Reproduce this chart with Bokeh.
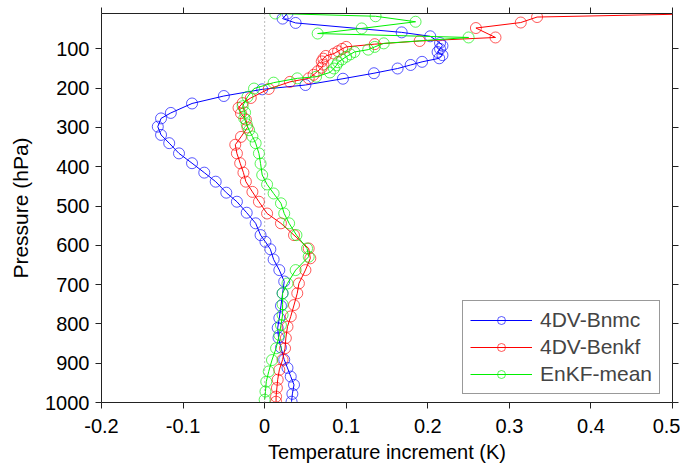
from bokeh.plotting import figure
from bokeh.models import Range1d, FixedTicker, LinearAxis, Span, Legend, CustomJSTickFormatter
from bokeh.embed import file_html
from bokeh.resources import INLINE

# ---------------- data ----------------
x_ticks = [-0.2, -0.1, 0.0, 0.1, 0.2, 0.3, 0.4, 0.5]
x_tick_labels = ["-0.2", "-0.1", "0", "0.1", "0.2", "0.3", "0.4", "0.5"]
y_ticks = [100, 200, 300, 400, 500, 600, 700, 800, 900, 1000]

bnmc_p = [10, 23, 34, 58, 68, 85, 92, 100, 108, 116, 124, 133, 141, 150, 162, 176, 192, 203,
          220, 239, 263, 277, 298, 319, 340, 366, 391, 415, 438, 466, 489, 517, 544, 574,
          591, 610, 636, 663, 692, 722, 754, 785, 810, 835, 860, 891, 912, 934, 955, 978, 998]
bnmc_t = [0.028, 0.022, 0.038, 0.168, 0.203, 0.215, 0.218, 0.215, 0.212, 0.218, 0.214, 0.193,
          0.179, 0.163, 0.134, 0.096, 0.050, -0.003, -0.050, -0.089, -0.115, -0.127, -0.131,
          -0.127, -0.117, -0.105, -0.089, -0.074, -0.060, -0.047, -0.034, -0.022, -0.011,
          -0.005, 0.001, 0.007, 0.011, 0.018, 0.024, 0.022, 0.020, 0.018, 0.016, 0.017, 0.020,
          0.024, 0.028, 0.032, 0.036, 0.034, 0.033]

benkf_p = [10, 19, 33, 47, 71, 80, 88, 95, 100, 106, 112, 118, 125, 132, 140, 148, 157, 166,
           175, 184, 202, 225, 238, 250, 264, 280, 300, 324, 344, 366, 391, 415, 438, 464, 489,
           519, 544, 574, 608, 633, 663, 697, 722, 752, 781, 807, 836, 862, 891, 917, 942, 963,
           985, 998]
benkf_t = [0.55, 0.334, 0.314, 0.259, 0.283, 0.19, 0.135, 0.10, 0.095, 0.09, 0.085, 0.075,
           0.072, 0.07, 0.072, 0.07, 0.065, 0.06, 0.054, 0.031, 0.005, -0.017, -0.027, -0.032,
           -0.029, -0.023, -0.021, -0.029, -0.036, -0.034, -0.030, -0.026, -0.023, -0.015,
           -0.007, 0.003, 0.020, 0.036, 0.054, 0.056, 0.050, 0.042, 0.040, 0.036, 0.032, 0.028,
           0.026, 0.025, 0.022, 0.018, 0.016, 0.015, 0.014, 0.014]

enkf_p = [10, 17, 31, 48, 61, 71, 86, 95, 102, 108, 114, 120, 127, 134, 142, 150, 160, 171,
          175, 186, 201, 222, 246, 262, 277, 292, 307, 323, 340, 366, 392, 421, 445, 468, 493,
          519, 544, 574, 608, 629, 663, 697, 722, 750, 777, 803, 828, 862, 892, 921, 947, 972,
          993]
enkf_t = [0.013, 0.136, 0.185, 0.119, 0.065, 0.25, 0.146, 0.135, 0.127, 0.11, 0.105, 0.10,
          0.095, 0.09, 0.088, 0.085, 0.08, 0.063, 0.040, 0.011, -0.013, -0.021, -0.027, -0.024,
          -0.025, -0.022, -0.019, -0.015, -0.011, -0.007, -0.005, -0.003, 0.003, 0.011, 0.020,
          0.024, 0.030, 0.039, 0.052, 0.054, 0.038, 0.028, 0.022, 0.022, 0.022, 0.020, 0.018,
          0.014, 0.009, 0.005, 0.002, 0.001, 0.000]

series = [
    ("4DV-Bnmc", bnmc_t, bnmc_p, "#0000ff"),
    ("4DV-Benkf", benkf_t, benkf_p, "#ff0000"),
    ("EnKF-mean", enkf_t, enkf_p, "#00f000"),
]

FONT = "Liberation Sans"

p = figure(frame_width=571, frame_height=389, output_backend="svg", toolbar_location=None,
           x_range=Range1d(-0.2, 0.5), y_range=Range1d(1000, 10),
           min_border_left=101, min_border_right=8, min_border_top=13, min_border_bottom=56)
p.outline_line_color = None
p.xgrid.visible = False
p.ygrid.visible = False
p.background_fill_color = "white"
p.border_fill_color = "white"

# zero reference line
p.add_layout(Span(location=0, dimension="height", line_color="#777777",
                  line_dash="1 3", line_width=1))

items = []
for name, t, pr, col in series:
    r1 = p.line(t, pr, line_color=col, line_width=1)
    r2 = p.scatter(t, pr, marker="circle", size=11, fill_color=None,
                   line_color=col, line_alpha=0.65, line_width=1)
    items.append((name, [r1, r2]))

legend = Legend(items=items, location=(361, 8))
legend.label_text_font = FONT
legend.label_text_font_size = "21px"
legend.glyph_width = 62
legend.glyph_height = 20
legend.label_height = 20
legend.label_standoff = 8
legend.spacing = 3
legend.padding = 7
legend.margin = 0
legend.border_line_color = "#333333"
legend.border_line_width = 1
legend.background_fill_color = "white"
p.add_layout(legend, "center")

overrides = {t: lab for t, lab in zip(x_ticks, x_tick_labels)}

def style(ax, labels=True):
    ax.axis_line_color = "#222222"
    ax.major_tick_line_color = "#222222"
    ax.major_tick_in = 0
    ax.major_tick_out = 6
    ax.minor_tick_line_color = None
    ax.major_label_text_font = FONT
    ax.major_label_text_color = "black"
    ax.major_label_text_font_size = "20px"
    if labels:
        ax.major_label_standoff = 6
    else:
        ax.formatter = CustomJSTickFormatter(code="return ''")
        ax.major_label_standoff = 0
    ax.axis_label_text_font = FONT
    ax.axis_label_text_font_style = "normal"
    ax.axis_label_text_color = "black"
    ax.axis_label_text_font_size = "20px"

xa = p.xaxis[0]
xa.ticker = FixedTicker(ticks=x_ticks)
xa.major_label_overrides = overrides
xa.axis_label = "Temperature increment (K)"
style(xa)
xa.major_label_standoff = 10
xa.axis_label_standoff = 5

ya = p.yaxis[0]
ya.ticker = FixedTicker(ticks=y_ticks)
ya.axis_label = "Pressure (hPa)"
style(ya)
ya.axis_label_text_font_size = "21px"
ya.axis_label_standoff = 10

top = LinearAxis(ticker=FixedTicker(ticks=x_ticks))
style(top, labels=False)
p.add_layout(top, "above")

right = LinearAxis(ticker=FixedTicker(ticks=y_ticks))
style(right, labels=False)
p.add_layout(right, "right")

open("out.html", "w").write(file_html(p, INLINE))
